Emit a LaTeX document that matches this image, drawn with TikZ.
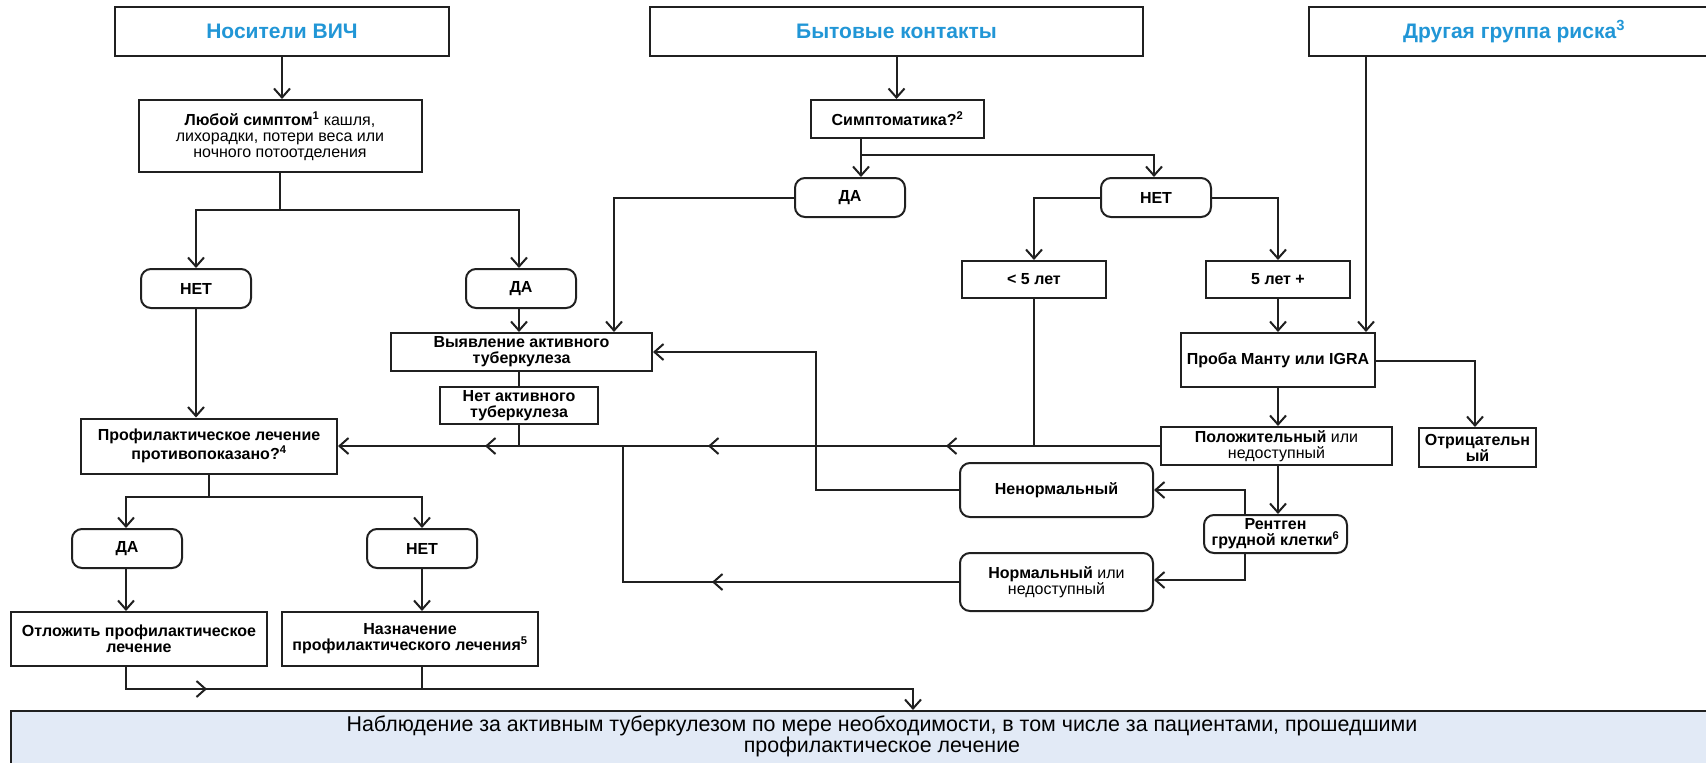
\documentclass[tikz,border=0pt]{standalone}
\usepackage{fontspec}
\setmainfont{Liberation Sans}
\usetikzlibrary{arrows.meta,decorations.markings}
\definecolor{titleblue}{RGB}{33,150,214}
\definecolor{obsfill}{RGB}{226,234,246}
\definecolor{ink}{RGB}{32,32,32}
\newcommand{\bodysize}{\fontsize{16}{16}\selectfont}
\newcommand{\titlesize}{\fontsize{21}{22}\selectfont\bfseries}
\newcommand{\obssize}{\fontsize{21.4}{19}\selectfont}

\begin{document}
\begin{tikzpicture}[x=1pt,y=-1pt,
  >={Straight Barb[length=9pt,width=16pt]},
  line/.style={draw=ink,line width=2pt},
  arr/.style={line,->},
  tipat/.style={postaction={decorate,decoration={markings,mark=at position #1 with {\arrow{>}}}}},
  box/.style={rectangle,draw=ink,line width=2pt,fill=white,inner sep=2pt,align=center,font=\bodysize,text=black},
  rbox/.style={box,rounded corners=10pt},
  titlebox/.style={box,font=\titlesize,text=titleblue},
  sz/.style 2 args={minimum width=#1pt,minimum height=#2pt}]

\useasboundingbox (0,0) rectangle (1706,763);
\clip (0,0) rectangle (1706,763);
\fill[white] (0,0) rectangle (1706,763);

% top row: the three groups
\node[titlebox,sz={334}{49}] (hiv) at (282,31.5) {Носители ВИЧ};
\node[titlebox,sz={493}{49}] (bt) at (896.5,31.5) {Бытовые контакты};
\node[titlebox,sz={410}{49}] (risk) at (1514,31.5) {Другая группа риска\textsuperscript{3}};

% HIV branch
\node[box,sz={283}{72}] (sym) at (280,136) {\textbf{Любой симптом\textsuperscript{1}} кашля,\\лихорадки, потери веса или\\ночного потоотделения};
\node[rbox,sz={110}{39},font=\bodysize\bfseries] (no1) at (196,288.5) {НЕТ};
\node[rbox,sz={110}{39},font=\bodysize\bfseries] (yes1) at (521,288.5) {ДА};

% household contacts branch
\node[box,sz={173}{38},font=\bodysize\bfseries] (symp) at (897.5,119) {Симптоматика?\textsuperscript{2}};
\node[rbox,sz={110}{39},font=\bodysize\bfseries] (yes2) at (850,197.5) {ДА};
\node[rbox,sz={110}{39},font=\bodysize\bfseries] (no2) at (1156,197.5) {НЕТ};
\node[box,sz={144}{37},font=\bodysize\bfseries] (lt5) at (1034,279.5) {< 5 лет};
\node[box,sz={144}{37},font=\bodysize\bfseries] (ge5) at (1278,279.5) {5 лет +};

% active TB screening
\node[box,sz={261}{38},font=\bodysize\bfseries] (detect) at (521.5,352) {Выявление активного\\туберкулеза};
\node[box,sz={158}{37},font=\bodysize\bfseries] (noact) at (519,405.5) {Нет активного\\туберкулеза};

% preventive treatment decision
\node[box,sz={256}{55},font=\bodysize\bfseries] (proph) at (209,446) {Профилактическое лечение\\противопоказано?\textsuperscript{4}};
\node[rbox,sz={110}{39},font=\bodysize\bfseries] (yes3) at (127,548.5) {ДА};
\node[rbox,sz={110}{39},font=\bodysize\bfseries] (no3) at (422,548.5) {НЕТ};
\node[box,sz={256}{54},font=\bodysize\bfseries] (defer) at (139,639) {Отложить профилактическое\\лечение};
\node[box,sz={256}{54},font=\bodysize\bfseries] (assign) at (410,639) {Назначение\\профилактического лечения\textsuperscript{5}};

% testing and chest X-ray
\node[box,sz={194}{54},font=\bodysize\bfseries] (mantoux) at (1278,360) {Проба Манту или IGRA};
\node[box,sz={231}{38}] (pos) at (1276.5,446) {\textbf{Положительный} или\\недоступный};
\node[box,sz={117}{39},font=\bodysize\bfseries] (neg) at (1477.5,447.5) {Отрицательн\\ый};
\node[rbox,sz={143}{38},font=\bodysize\bfseries] (xray) at (1275.5,534) {Рентген\\грудной клетки\textsuperscript{6}};
\node[rbox,sz={193}{54},font=\bodysize\bfseries] (abn) at (1056.5,490) {Ненормальный};
\node[rbox,sz={193}{58}] (norm) at (1056.5,582) {\textbf{Нормальный} или\\недоступный};

% follow-up
\node[box,fill=obsfill,sz={1709}{70},anchor=north] (obs) at (865.5,710) {};
\node[font=\obssize,align=center,inner sep=0pt] (obstext) at ([xshift=16.5pt,yshift=-26pt]obs.north)
  {Наблюдение за активным туберкулезом по мере необходимости, в том числе за пациентами, прошедшими\\профилактическое лечение};

% connectors: HIV branch
\draw[arr] (hiv.south) -- (hiv.south |- sym.north);
\path (sym.south) ++(0,37) coordinate (j1);
\draw[line] (sym.south) -- (j1);
\draw[arr] (j1) -| (no1.north);
\draw[arr] (j1) -| ([xshift=-2pt]yes1.north);
\draw[arr] (no1.south) -- (no1.south |- proph.north);
\draw[arr] ([xshift=-2pt]yes1.south) -- ([xshift=-2pt]yes1.south |- detect.north);
\draw[line] (noact.north |- detect.south) -- (noact.north);

% connectors: household contacts
\draw[arr] (bt.south) -- (bt.south |- symp.north);
\path ([xshift=-36.5pt]symp.south) coordinate (s0) ++(0,16) coordinate (j2);
\draw[line] (s0) -- (j2);
\draw[arr] (j2) -- (j2 |- yes2.north);
\draw[arr] (j2) -| ([xshift=-2pt]no2.north);
\draw[arr] (yes2.west) -| ([xshift=92.5pt]detect.north);
\draw[arr] (no2.west) -| (lt5.north);
\draw[arr] (no2.east) -| (ge5.north);

% connectors: testing
\coordinate (m1) at ([xshift=-10pt]mantoux.north east);
\draw[arr] (m1 |- risk.south) -- (m1);
\draw[arr] (ge5.south) -- (ge5.south |- mantoux.north);
\draw[arr] ([yshift=-1pt]mantoux.east) -| ([xshift=-2.5pt]neg.north);
\draw[arr] (mantoux.south) -- (mantoux.south |- pos.north);
\draw[arr] (mantoux.south |- pos.south) -- (mantoux.south |- xray.north);
\coordinate (xa) at ([xshift=-30.5pt]xray.north);
\coordinate (xb) at ([xshift=-30.5pt]xray.south);
\draw[arr] (xa) |- (abn.east);
\draw[arr] (xb) |- ([yshift=2pt]norm.east);
\draw[arr] (abn.west) -- ++(-143,0) |- (detect.east);

% main line towards the preventive treatment decision
\draw[arr,tipat=214pt,tipat=452pt,tipat=675pt] (pos.west) -- (proph.east);
\draw[line] (noact.south) -- (noact.south |- pos.west);
\draw[line] (lt5.south) -- (lt5.south |- pos.west);
\draw[line,tipat=247pt] (norm.west) -- ++(-336,0) coordinate (nj) -- (nj |- pos.west);

% connectors: preventive treatment
\path (proph.south) ++(0,22.5) coordinate (j3);
\draw[line] (proph.south) -- (j3);
\draw[arr] (j3) -| ([xshift=-1pt]yes3.north);
\draw[arr] (j3) -| (no3.north);
\draw[arr] ([xshift=-1pt]yes3.south) -- ([xshift=-1pt]yes3.south |- defer.north);
\draw[arr] (no3.south) -- (no3.south |- assign.north);
\path ([xshift=-1pt]yes3.south |- defer.south) coordinate (d0) ++(0,22) coordinate (d1);
\draw[arr,tipat=103pt] (d0) -- (d1) -| ([xshift=47.5pt]obs.north);
\draw[line] (no3.south |- assign.south) -- (no3.south |- d1);

\end{tikzpicture}
\end{document}
